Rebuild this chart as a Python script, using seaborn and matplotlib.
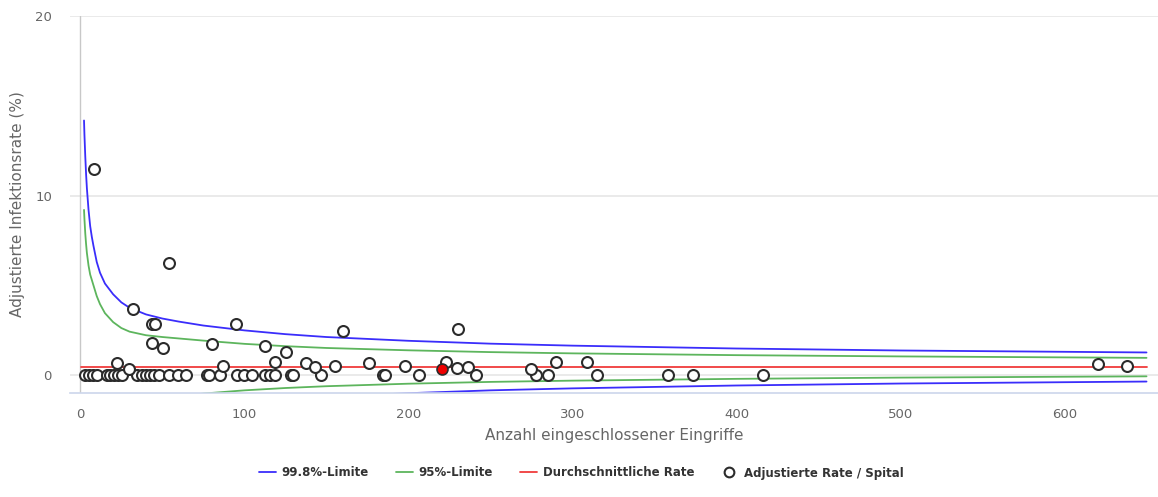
import matplotlib
matplotlib.use("Agg")
import matplotlib.pyplot as plt
from matplotlib.lines import Line2D
import seaborn as sns

# ---------------- data ----------------
limit_n = [2.25, 2.5, 3, 3.5, 4, 5, 6, 7, 8, 10, 12, 15, 20, 25, 30, 40, 50, 60,
           75, 100, 125, 150, 200, 250, 300, 400, 500, 650]
upper_998 = [14.18, 13.4, 12.2, 11.2, 10.4, 9.2, 8.3, 7.7, 7.2, 6.3, 5.7,
             5.1, 4.5, 4.05, 3.75, 3.38, 3.15, 2.98, 2.76, 2.49, 2.28, 2.12, 1.91,
             1.75, 1.64, 1.48, 1.37, 1.26]
upper_95 = [9.20, 8.7, 7.9, 7.3, 6.8, 6.1, 5.6, 5.3, 5.0, 4.4, 3.95, 3.45,
            2.95, 2.62, 2.42, 2.22, 2.12, 2.04, 1.92, 1.74, 1.61, 1.51, 1.38, 1.28,
            1.21, 1.11, 1.04, 0.96]

lower_998_n = [150, 175, 200, 250, 300, 400, 500, 650]
lower_998 = [-1.23, -1.11, -1.01, -0.85, -0.74, -0.58, -0.47, -0.36]
lower_95_n = [60, 75, 100, 125, 150, 200, 250, 300, 400, 500, 650]
lower_95 = [-1.20, -1.03, -0.85, -0.72, -0.62, -0.48, -0.38, -0.31, -0.21, -0.14, -0.07]

avg_n = [0.5, 650]
avg_rate = [0.45, 0.45]

hosp_n = [2.9, 5.3, 7.7, 10.2, 16.3, 18.1, 20.6, 23.0, 25.4, 34.6, 37.6, 40.1, 42.5,
          44.9, 48.0, 54.1, 59.6, 64.5, 77.3, 78.5, 85.2, 95.5, 99.8, 104.7, 112.6,
          115.7, 118.7, 128.5, 129.7, 146.8, 184.6, 185.8, 206.5, 241.3, 277.8, 285.2,
          315.1, 358.4, 373.6, 416.3,
          8.4, 54.3, 32.0, 43.5, 45.5, 43.5, 50.6, 80.1, 94.7, 112.6, 125.2, 160.0,
          22.6, 29.9, 86.8, 118.7, 137.6, 143.1, 155.5, 176.0, 198.2, 222.8, 230.1,
          229.9, 236.2, 274.8, 290.2, 309.1, 620.5, 638.2]
hosp_rate = [0.0] * 40 + [
          11.5, 6.26, 3.66, 2.84, 2.84, 1.77, 1.49, 1.73, 2.82, 1.62, 1.30, 2.45,
          0.69, 0.32, 0.50, 0.74, 0.69, 0.43, 0.50, 0.65, 0.50, 0.72, 2.58,
          0.41, 0.46, 0.33, 0.74, 0.72, 0.60, 0.50]

own_n = [220.4]
own_rate = [0.35]

labels = ["99.8%-Limite", "95%-Limite", "Durchschnittliche Rate", "Adjustierte Rate / Spital"]
x_title = "Anzahl eingeschlossener Eingriffe"
y_title = "Adjustierte Infektionsrate (%)"

# ---------------- styling ----------------
sns.set_theme(style="white")
plt.rcParams["font.family"] = ["DejaVu Sans"]

BLUE = "#3a2dfb"
GREEN = "#5db55d"
RED = "#f03c3c"
TXT = "#666666"

W, H = 1158, 497
fig = plt.figure(figsize=(W / 100, H / 100), dpi=100)
ax = fig.add_axes([70 / W, (H - 392.5) / H, (W - 70) / W, (392.5 - 16) / H])

lw = 1.3
sns.lineplot(x=limit_n, y=upper_998, ax=ax, color=BLUE, lw=lw, sort=False)
sns.lineplot(x=lower_998_n, y=lower_998, ax=ax, color=BLUE, lw=lw, sort=False)
sns.lineplot(x=limit_n, y=upper_95, ax=ax, color=GREEN, lw=lw, sort=False)
sns.lineplot(x=lower_95_n, y=lower_95, ax=ax, color=GREEN, lw=lw, sort=False)
sns.lineplot(x=avg_n, y=avg_rate, ax=ax, color=RED, lw=lw, sort=False)

sns.scatterplot(x=hosp_n, y=hosp_rate, ax=ax, s=62, facecolor="white",
                edgecolor="#2b2b2b", linewidth=1.5, zorder=5, legend=False)
sns.scatterplot(x=own_n, y=own_rate, ax=ax, s=62, facecolor="#ee0000",
                edgecolor="#2b2b2b", linewidth=1.2, zorder=6, legend=False)

ax.set_xlim(-6.3, 657)
ax.set_ylim(-0.97, 20)
ax.axvline(0, color="#c8c8c8", lw=1, zorder=1)

ax.set_yticks([0, 10, 20])
ax.set_xticks([0, 100, 200, 300, 400, 500, 600])
ax.yaxis.grid(True, color="#e6e6e6", lw=1.2)
ax.xaxis.grid(False)
for s in ["top", "right", "left"]:
    ax.spines[s].set_visible(False)
ax.spines["bottom"].set_color("#ccd6eb")
ax.spines["bottom"].set_linewidth(1.2)
ax.tick_params(axis="y", length=0, pad=13, labelsize=9.5, labelcolor=TXT)
ax.tick_params(axis="x", length=8, width=1, color="#ccd6eb", pad=3,
               labelsize=9.5, labelcolor=TXT, direction="out")

ax.set_xlabel(x_title, fontsize=11, color=TXT, labelpad=5)
ax.set_ylabel(y_title, fontsize=11, color=TXT, labelpad=7)

handles = [
    Line2D([], [], color=BLUE, lw=lw),
    Line2D([], [], color=GREEN, lw=lw),
    Line2D([], [], color=RED, lw=lw),
    Line2D([], [], marker="o", ls="none", markerfacecolor="white",
           markeredgecolor="#2b2b2b", markeredgewidth=1.5, markersize=7),
]
fig.legend(handles, labels, ncol=4, loc="center", bbox_to_anchor=(0.502, 1 - 473 / H),
           frameon=False, prop={"weight": "bold", "size": 8.5}, labelcolor="#333333",
           handlelength=1.4, handletextpad=0.5, columnspacing=2.3)

fig.savefig("out.png", dpi=100)
